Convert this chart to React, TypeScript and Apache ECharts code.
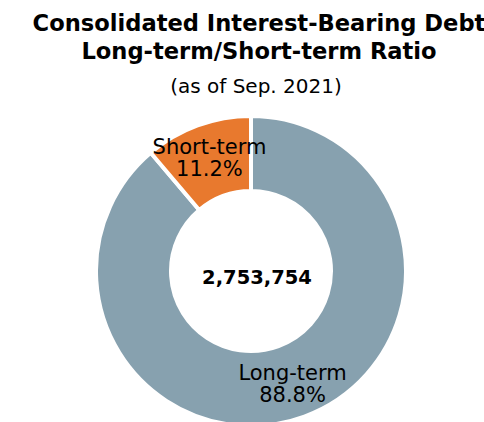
import React, { useEffect, useRef } from "react";
import * as echarts from "echarts";

const categories = ["Long-term", "Short-term"];
const values = [88.8, 11.2];
const colors = ["#87a1af", "#e8792e"];
const totalLabel = "2,753,754";
const titleLines = ["Consolidated Interest-Bearing Debt", "Long-term/Short-term Ratio"];
const subtitle = "(as of Sep. 2021)";

export default function App() {
  const ref = useRef<HTMLDivElement>(null);
  useEffect(() => {
    document.body.style.margin = "0";
    const chart = echarts.init(ref.current!, null, { renderer: "svg" });
    chart.setOption({
      animation: false,
      backgroundColor: "#ffffff",
      title: [
        {
          text: titleLines.join("\n"),
          left: 254,
          textAlign: "center",
          top: 4,
          textStyle: {
            fontFamily: "DejaVu Sans",
            fontWeight: "bold",
            fontSize: 22.6,
            lineHeight: 28,
            color: "#000",
          },
        },
        {
          text: subtitle,
          left: 251,
          textAlign: "center",
          top: 71,
          textStyle: {
            fontFamily: "DejaVu Sans",
            fontWeight: "normal",
            fontSize: 20,
            color: "#000",
          },
        },
        {
          text: totalLabel,
          left: 252,
          top: 272,
          textAlign: "center",
          textVerticalAlign: "middle",
          textStyle: {
            fontFamily: "DejaVu Sans",
            fontWeight: "bold",
            fontSize: 19.5,
            color: "#000",
          },
        },
      ],
      series: [
        {
          type: "pie",
          center: [251, 271],
          radius: [80, 155],
          startAngle: 90,
          clockwise: true,
          itemStyle: { borderColor: "#fff", borderWidth: 4 },
          label: {
            show: true,
            position: "inside",
            formatter: (p: any) => `${p.name}\n${p.value.toFixed(1)}%`,
            fontFamily: "DejaVu Sans",
            fontSize: 21,
            lineHeight: 22,
            color: "#000",
          },
          labelLine: { show: false },
          emphasis: { disabled: true },
          data: categories.map((c, i) => ({
            name: c,
            value: values[i],
            itemStyle: { color: colors[i] },
          })),
        },
      ],
    });
    return () => chart.dispose();
  }, []);
  return <div ref={ref} style={{ width: 484, height: 422 }} />;
}
